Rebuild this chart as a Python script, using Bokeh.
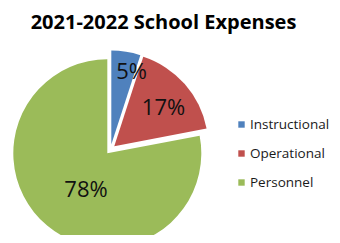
import numpy as np
from bokeh.plotting import figure
from bokeh.models import Range1d, Legend, LegendItem
from bokeh.core.properties import value
from bokeh.embed import file_html
from bokeh.resources import INLINE

# ---- data ----
chart_title = "2021-2022 School Expenses"
categories = ["Instructional", "Operational", "Personnel"]
shares = [5, 17, 78]
labels = ["5%", "17%", "78%"]

# ---- style / layout ----
colors = ["#4F81BD", "#C0504D", "#9BBB59"]
W, H = 332, 235
cx, cy = 110, -149       # pie centre (px, y downward negative)
R = 94                   # radius
explode = 5              # slice offset
label_frac = [0.817, 0.673, 0.437]
label_shift_deg = [-6.3, -2.5, 8.3]

p = figure(width=W, height=H, output_backend="svg", toolbar_location=None,
           x_range=Range1d(0, W), y_range=Range1d(-H, 0),
           x_axis_location=None, y_axis_location=None, tools="",
           min_border=0)
p.grid.visible = False
p.outline_line_color = None
p.background_fill_color = "white"
p.border_fill_color = "white"

frac = np.array(shares, dtype=float) / np.sum(shares)
cum = np.concatenate([[0.0], np.cumsum(frac)])
start = np.pi / 2 - cum[:-1] * 2 * np.pi
end = np.pi / 2 - cum[1:] * 2 * np.pi
mid = (start + end) / 2
sx = cx + explode * np.cos(mid)
sy = cy + explode * np.sin(mid)

wedges = p.wedge(x=sx, y=sy, radius=R, start_angle=start, end_angle=end,
                 direction="clock", fill_color=colors, line_color=None)

la = mid + np.radians(label_shift_deg)
lx = sx + np.array(label_frac) * R * np.cos(la)
ly = sy + np.array(label_frac) * R * np.sin(la)
p.text(x=lx, y=ly, text=labels, text_font=value("Open Sans"),
       text_font_size="22px", text_color="#111111",
       text_align="center", text_baseline="middle")

p.text(x=[163], y=[-21], text=[chart_title], text_font=value("Open Sans"),
       text_font_size="20px", text_font_style="bold", text_color="#000000",
       text_align="center", text_baseline="middle")

legend = Legend(items=[LegendItem(label=c, renderers=[wedges], index=i)
                       for i, c in enumerate(categories)],
                location=(237, 43), orientation="vertical",
                glyph_width=8, glyph_height=8, label_height=20,
                spacing=9, label_standoff=5, padding=0, margin=0,
                label_text_font="Open Sans", label_text_font_size="13.5px",
                label_text_color="#1a1a1a",
                border_line_color=None, background_fill_alpha=0)
p.add_layout(legend)

open("out.html", "w").write(file_html(p, INLINE))
